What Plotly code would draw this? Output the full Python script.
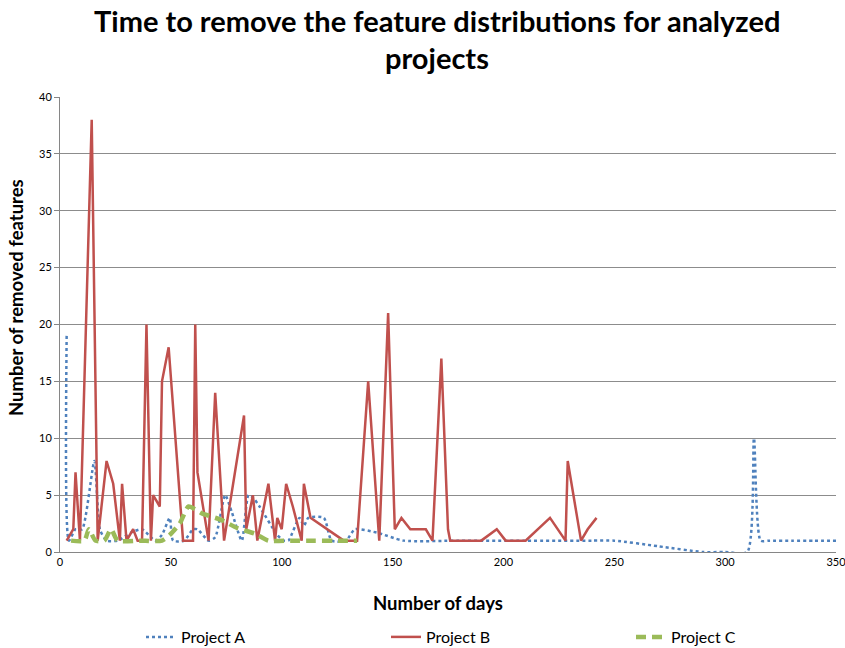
import plotly.graph_objects as go

# ---- data ----
a_days = [3, 4, 7, 10, 15.5, 18, 21, 26, 32, 37, 43, 46, 49.5, 51, 56, 60, 62, 67, 70, 74.5,
          77.5, 82, 85, 87, 90, 98, 101, 103, 108, 110, 112, 119, 122.5, 129, 133, 143, 155,
          180, 210, 240, 250, 270, 290, 300, 310, 313, 316, 320, 330, 340, 350]
a_vals = [19, 1, 2, 2, 8, 2, 1, 1, 1.7, 2, 1, 1.5, 3, 1, 1, 2, 2, 1, 1.3, 5,
          3.5, 1, 5, 4.8, 4, 1.5, 1, 1, 3, 2.3, 3, 3, 1, 1, 2, 1.7, 1,
          1, 1, 1, 1, 0.5, 0, 0, 0, 10, 1, 1, 1, 1, 1]

b_days = [3, 6, 7, 9, 14.3, 17, 21, 24, 27, 28, 30, 33, 35, 37, 39, 41, 42, 45, 46, 49,
          55.5, 60, 61, 62, 67, 70, 74, 83, 84, 87, 89, 94, 97, 98, 100, 102, 105, 109, 110, 113,
          128, 134, 139, 144, 148, 151, 154, 158, 165, 168, 172, 175, 176, 190, 197, 201, 210,
          221, 228, 229, 235, 238, 242]
b_vals = [1, 2, 7, 1, 38, 1, 8, 6, 1, 6, 1, 2, 1, 1, 20, 1, 5, 4, 15, 18,
          1, 1, 20, 7, 1, 14, 1, 12, 2, 5, 1, 6, 1, 3, 2, 6, 4, 1, 6, 3,
          1, 1, 15, 1, 21, 2, 3, 2, 2, 1, 17, 2, 1, 1, 2, 1, 1,
          3, 1, 8, 1, 2, 3]

c_days = [5, 11, 13, 16, 20, 23, 26, 36, 46, 49.5, 54, 58, 64, 73, 80, 88, 94, 104, 114, 124, 134]
c_vals = [1, 1, 2, 1, 1, 2, 1, 1, 1, 1.5, 2.5, 4, 3.4, 2.8, 2.1, 1.6, 1, 1, 1, 1, 1]

series_names = ["Project A", "Project B", "Project C"]
y_ticks = [0, 5, 10, 15, 20, 25, 30, 35, 40]
x_ticks = [0, 50, 100, 150, 200, 250, 300, 350]

title_lines = ["Time to remove the feature distributions for analyzed", "projects"]
x_title = "Number of days"
y_title = "Number of removed features"

FONT = "Lato"
PL, PR, PT, PB = 60, 836, 97, 552
PW, PH = PR - PL, PB - PT


def px_x(x):
    return (x - PL) / PW


def px_y(y):
    return (PB - y) / PH


fig = go.Figure()
fig.add_trace(go.Scatter(x=a_days, y=a_vals, name=series_names[0], mode="lines",
                         line=dict(color="#4F81BD", width=2.5, dash="dot", shape="spline", smoothing=0.6)))
fig.add_trace(go.Scatter(x=b_days, y=b_vals, name=series_names[1], mode="lines",
                         line=dict(color="#C0504D", width=2.5)))
fig.add_trace(go.Scatter(x=c_days, y=c_vals, name=series_names[2], mode="lines",
                         line=dict(color="#9BBB59", width=4.5, dash="10px,6px", shape="spline", smoothing=0.6)))

annotations = [
    dict(text="<b>" + title_lines[0] + "</b>", xref="paper", yref="paper",
         x=px_x(437), y=px_y(21), xanchor="center", yanchor="middle", showarrow=False,
         font=dict(size=29, family=FONT, color="#000000")),
    dict(text="<b>" + title_lines[1] + "</b>", xref="paper", yref="paper",
         x=px_x(437), y=px_y(57), xanchor="center", yanchor="middle", showarrow=False,
         font=dict(size=29, family=FONT, color="#000000")),
    dict(text="<b>" + x_title + "</b>", xref="paper", yref="paper",
         x=px_x(438), y=px_y(603), xanchor="center", yanchor="middle",
         showarrow=False, font=dict(size=18.5, family=FONT, color="#000000")),
    dict(text="<b>" + y_title + "</b>", xref="paper", yref="paper",
         x=px_x(16), y=px_y(298), xanchor="center", yanchor="middle",
         textangle=-90, showarrow=False, font=dict(size=18.5, family=FONT, color="#000000")),
]

fig.update_layout(
    width=845, height=648,
    margin=dict(l=PL, r=845 - PR, t=PT, b=648 - PB, autoexpand=False),
    paper_bgcolor="white", plot_bgcolor="white",
    font=dict(family=FONT, color="#000000"),
    showlegend=True,
    legend=dict(orientation="h", x=px_x(141), xanchor="left",
                y=px_y(637), yanchor="middle", font=dict(size=16, family=FONT),
                entrywidth=200, entrywidthmode="pixels", bgcolor="rgba(0,0,0,0)"),
    xaxis=dict(range=[0, 350], tickvals=x_ticks, showgrid=False, zeroline=False,
               showline=True, linecolor="#868686", linewidth=1, ticks="",
               ticklabeloverflow="allow",
               tickfont=dict(size=11, family=FONT, color="#000000")),
    yaxis=dict(range=[0, 40], tickvals=y_ticks, showgrid=True, gridcolor="#8c8c8c", gridwidth=1,
               zeroline=False, showline=True, linecolor="#868686", linewidth=1,
               ticks="outside", ticklen=5, tickcolor="#868686",
               tickfont=dict(size=11, family=FONT, color="#000000")),
    annotations=annotations,
)

fig.write_html("out.html", config={"displayModeBar": False},
               post_script="document.body.style.margin='0';document.body.style.overflow='hidden';")
